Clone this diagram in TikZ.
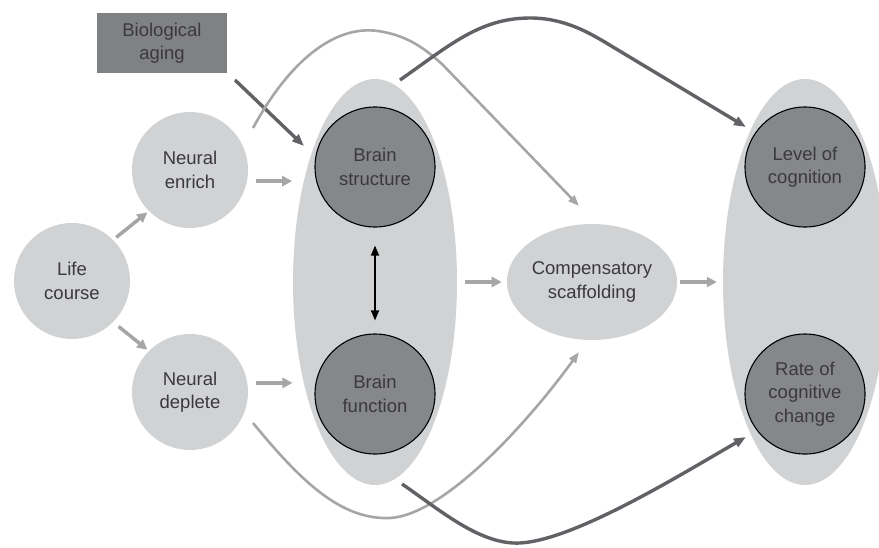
\documentclass[tikz,border=0pt]{standalone}
\usepackage{fontspec}
\setmainfont{Liberation Sans}
\usetikzlibrary{shapes.geometric,arrows.meta}
\definecolor{lightfill}{HTML}{D1D2D4}
\definecolor{darkfill}{HTML}{86878B}
\definecolor{boxfill}{HTML}{808184}
\definecolor{lightarr}{HTML}{A5A6A8}
\definecolor{darkarr}{HTML}{616265}
\definecolor{txt}{HTML}{3A3A3C}
\tikzset{
  lab/.style={text=txt, align=center, font=\fontsize{18.5}{23.5}\selectfont, inner sep=0pt},
  lightcirc/.style={lab, circle, fill=lightfill, minimum size=116pt},
  darkcirc/.style={lab, circle, fill=darkfill, draw=black, line width=1.1pt, minimum size=120pt},
  bigell/.style={ellipse, fill=lightfill, minimum width=164pt, minimum height=406pt, inner sep=0pt},
  shortarr/.style={draw=lightarr, line width=3.5pt, -{Triangle[length=10pt,width=10pt]}},
  lightcurve/.style={draw=lightarr, line width=2.6pt, -{Triangle[length=11pt,width=8pt]}},
  darkcurve/.style={draw=darkarr, line width=3.4pt, -{Triangle[length=12pt,width=9pt]}},
}
\begin{document}
\begin{tikzpicture}[x=1pt,y=-1pt]
\useasboundingbox (0,0) rectangle (879,547);
\begin{scope}
\clip (0,0) rectangle (879,547);
% big ellipses
\node[bigell] (bigL) at (375,282) {};
\node[bigell] (bigR) at (805,282) {};
\end{scope}
% nodes
\node[lab, fill=boxfill, minimum width=130pt, minimum height=60pt] (bio) at (162,43) {Biological\\aging};
\node[lightcirc] (life) at (72,281) {Life\\course};
\node[lightcirc] (enrich) at (190,170) {Neural\\enrich};
\node[lightcirc] (deplete) at (190,392) {Neural\\deplete};
\node[darkcirc] (struct) at (375,167) {Brain\\structure};
\node[darkcirc] (func) at (375,394) {Brain\\function};
\node[lab, ellipse, fill=lightfill, minimum width=170pt, minimum height=116pt] (comp) at (592,282) {Compensatory\\scaffolding};
\node[darkcirc] (level) at (805,167) {Level of\\cognition};
\node[darkcirc] (rate) at (805,394) {Rate of\\cognitive\\change};
% free ends of the curved connectors
\coordinate (enrichTop) at (253,128);
\coordinate (compTopTip) at (579,206);
\coordinate (bigLTop) at (400,80);
\coordinate (levelTip) at (746,127);
\coordinate (depleteBot) at (253,423);
\coordinate (compBotTip) at (579,352);
\coordinate (bigLBot) at (402,484);
\coordinate (rateTip) at (746,437);
\coordinate (bioStart) at (235,80);
\coordinate (bioTip) at (304,146);
% short straight arrows
\draw[shortarr, shorten <=4pt, shorten >=2pt] (life.45) -- (enrich.225);
\draw[shortarr, shorten <=7pt, shorten >=2pt] (life.-45) -- (deplete.135);
\draw[shortarr] ([xshift=9pt]enrich.-11) -- ([xshift=45pt]enrich.-11);
\draw[shortarr] ([xshift=9pt]deplete.9) -- ([xshift=45pt]deplete.9);
\draw[shortarr, shorten <=8pt, shorten >=5pt] (bigL.east) -- (comp.west);
\draw[shortarr, shorten <=3pt, shorten >=6pt] (comp.east) -- (bigR.west);
% double arrow
\draw[black, line width=1.6pt, {Triangle[length=10pt,width=8pt]}-{Triangle[length=10pt,width=8pt]}, shorten <=18pt, shorten >=13pt] (struct.south) -- (func.north);
% biological aging arrow
\draw[darkcurve] (bioStart) -- (bioTip);
% curved connectors
\draw[lightcurve] (enrichTop) .. controls (290,60) and (335,25) .. (378,31) .. controls (405,35) and (422,46) .. (442,64) -- (compTopTip);
\draw[darkcurve] (bigLTop) .. controls (450,45) and (480,18) .. (530,18) .. controls (565,18) and (590,33) .. (613,47) -- (levelTip);
\draw[lightcurve] (depleteBot) .. controls (300,480) and (340,520) .. (390,518) .. controls (445,515) and (530,420) .. (compBotTip);
\draw[darkcurve] (bigLBot) .. controls (440,510) and (480,545) .. (520,543) .. controls (575,540) and (680,475) .. (rateTip);
\end{tikzpicture}
\end{document}
